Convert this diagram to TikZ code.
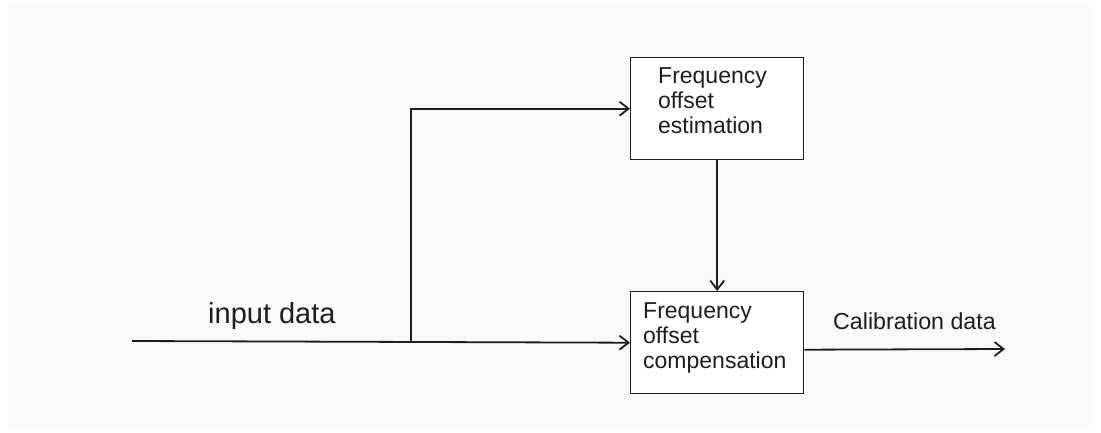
\documentclass[tikz,border=0pt]{standalone}
\usepackage{fontspec}
\setmainfont{Liberation Sans}
\usetikzlibrary{arrows.meta}
\definecolor{bggray}{HTML}{F9F9F9}
\definecolor{ink}{HTML}{1E1E1E}
\begin{document}
\begin{tikzpicture}[x=1pt,y=-1pt,
 line/.style={line width=1.8pt, draw=ink},
 arr/.style={line, -{Straight Barb[length=9pt,width=14pt,line width=1.8pt]}},
 blk/.style={draw=ink, line width=1.4pt, fill=white, rectangle, minimum width=173pt, minimum height=102pt, inner sep=0pt, anchor=north west},
 lbl/.style={anchor=north west, inner sep=0pt, font=\fontsize{23}{25}\selectfont, text=ink, align=left},
 tag/.style={anchor=base west, inner sep=0pt, text=ink},
]
\useasboundingbox[fill=white] (0,0) rectangle (1101,432);
\fill[bggray] (8,5) rectangle (1093,427);

\node[blk] (est) at (630,57) {};
\node[blk] (comp) at (630,291) {};
\node[lbl] (esttext) at (658,67.5) {Frequency\\offset\\estimation};
\node[lbl] (comptext) at (643,302) {Frequency\\offset\\compensation};

\coordinate (in) at (132,341);
\coordinate (split) at (411,341);
\coordinate (out) at (1005,349);

\draw[arr] (in) -- (comp.west);
\draw[arr] (split) |- (est.west);
\draw[arr] (est.south) -- (comp.north);
\draw[arr] ([yshift=-7pt]comp.east) -- (out);

\node[tag, font=\fontsize{29}{32}\selectfont] (inlbl) at (208,323) {input data};
\node[tag, font=\fontsize{23.2}{25}\selectfont] (outlbl) at (833,329) {Calibration data};
\end{tikzpicture}
\end{document}
